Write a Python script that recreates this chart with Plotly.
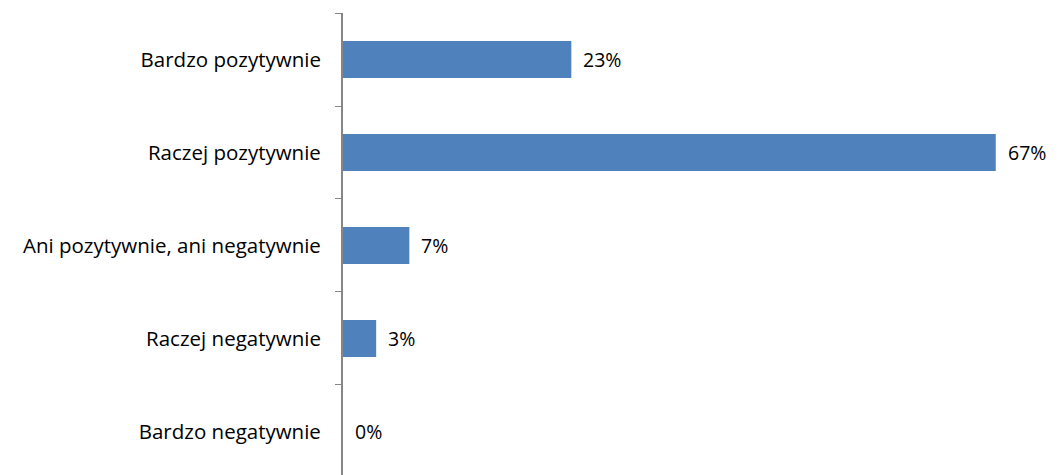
import plotly.graph_objects as go

categories = ["Bardzo pozytywnie", "Raczej pozytywnie", "Ani pozytywnie, ani negatywnie",
              "Raczej negatywnie", "Bardzo negatywnie"]
values = [0.234, 0.669, 0.068, 0.034, 0.0]
labels = ["23%", "67%", "7%", "3%", "0%"]

FONT = "Open Sans"
FS = 20.5
fig = go.Figure()
fig.add_trace(go.Bar(
    x=values, y=categories, orientation="h",
    marker=dict(color="#4F81BD", line=dict(width=0)),
    hoverinfo="skip",
))
for v, c, t in zip(values, categories, labels):
    fig.add_annotation(x=v, y=c, text=t, showarrow=False, xanchor="left",
                       xshift=10, font=dict(family=FONT, size=19.5, color="#000000"))

# page body has an 8px default margin, so the figure is sized to fit the window
fig.update_layout(
    width=1050, height=467,
    margin=dict(l=335, r=32, t=5, b=0, autoexpand=False),
    paper_bgcolor="white", plot_bgcolor="white",
    bargap=0.6, showlegend=False,
    font=dict(family=FONT, size=FS, color="#000000"),
)
fig.update_xaxes(range=[0, 0.70], visible=False, showgrid=False, zeroline=False)
fig.update_yaxes(
    type="category", categoryorder="array", categoryarray=categories,
    range=[4.468, -0.5], tickson="boundaries", ticks="outside", ticklen=6,
    tickcolor="#868686", showline=True, linecolor="#868686", linewidth=2,
    showgrid=False, zeroline=False, ticklabelstandoff=16, automargin=False,
    tickfont=dict(family=FONT, size=FS, color="#000000"),
)
fig.write_html("out.html")
